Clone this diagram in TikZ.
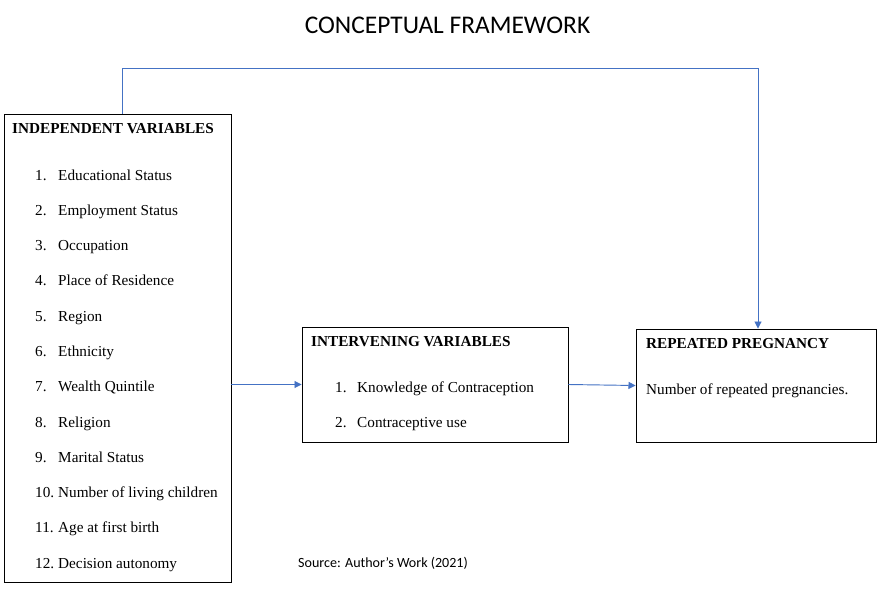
\documentclass[tikz,border=0pt]{standalone}
\usepackage{fontspec}
\setmainfont{Liberation Serif}
\newfontfamily\calibrifont{Carlito}
\usetikzlibrary{arrows.meta}
\definecolor{flowblue}{HTML}{4472C4}
\tikzset{
	varbox/.style={draw=black, line width=0.8pt, inner sep=0pt},
	flow/.style={draw=flowblue, line width=0.8pt, -{Triangle[length=6pt,width=6pt]}},
	txt/.style={anchor=base west, inner sep=0pt, font=\fontsize{13}{15}\selectfont},
	head/.style={txt, font=\fontsize{13}{15}\selectfont\bfseries}
}

\begin{document}
\begin{tikzpicture}
		\useasboundingbox[fill=white] (0,0) rectangle (26.79,-18.39);
		\node[anchor=base, inner sep=0pt, font=\calibrifont\fontsize{21.7}{24}\selectfont] (title) at (13.425,-1.0) {CONCEPTUAL FRAMEWORK};
		% boxes
		\node[varbox, minimum width=6.81cm, minimum height=14.04cm] (indep) at (3.525,-10.44) {};
		\node[varbox, minimum width=7.98cm, minimum height=3.45cm] (interv) at (13.05,-11.535) {};
		\node[varbox, minimum width=7.2cm, minimum height=3.39cm] (repeat) at (22.68,-11.565) {};
		% independent variables
		\node[head] (indephead) at (0.36,-3.99) {INDEPENDENT VARIABLES};
		\node[txt] (n1) at (1.05,-5.40) {1.};
		\node[txt] (v1) at (1.74,-5.40) {Educational Status};
		\node[txt] (n2) at (1.05,-6.46) {2.};
		\node[txt] (v2) at (1.74,-6.46) {Employment Status};
		\node[txt] (n3) at (1.05,-7.52) {3.};
		\node[txt] (v3) at (1.74,-7.52) {Occupation};
		\node[txt] (n4) at (1.05,-8.57) {4.};
		\node[txt] (v4) at (1.74,-8.57) {Place of Residence};
		\node[txt] (n5) at (1.05,-9.63) {5.};
		\node[txt] (v5) at (1.74,-9.63) {Region};
		\node[txt] (n6) at (1.05,-10.69) {6.};
		\node[txt] (v6) at (1.74,-10.69) {Ethnicity};
		\node[txt] (n7) at (1.05,-11.75) {7.};
		\node[txt] (v7) at (1.74,-11.75) {Wealth Quintile};
		\node[txt] (n8) at (1.05,-12.81) {8.};
		\node[txt] (v8) at (1.74,-12.81) {Religion};
		\node[txt] (n9) at (1.05,-13.87) {9.};
		\node[txt] (v9) at (1.74,-13.87) {Marital Status};
		\node[txt] (n10) at (1.05,-14.92) {10.};
		\node[txt] (v10) at (1.74,-14.92) {Number of living children};
		\node[txt] (n11) at (1.05,-15.98) {11.};
		\node[txt] (v11) at (1.74,-15.98) {Age at first birth};
		\node[txt] (n12) at (1.05,-17.04) {12.};
		\node[txt] (v12) at (1.74,-17.04) {Decision autonomy};
		% intervening variables
		\node[head] (intervhead) at (9.33,-10.38) {INTERVENING VARIABLES};
		\node[txt] (m1) at (10.05,-11.76) {1.};
		\node[txt] (w1) at (10.71,-11.76) {Knowledge of Contraception};
		\node[txt] (m2) at (10.05,-12.81) {2.};
		\node[txt] (w2) at (10.71,-12.81) {Contraceptive use};
		% outcome
		\node[head] (repeathead) at (19.38,-10.44) {REPEATED PREGNANCY};
		\node[txt] (outcome) at (19.38,-11.82) {Number of repeated pregnancies.};
		\node[anchor=base west, inner sep=0pt, font=\calibrifont\fontsize{12}{14}\selectfont] (source) at (8.94,-17.01) {Source: Author’s Work (2021)};
		% arrows
		\draw[flow] (indep.east |- interv.west) -- (interv.west);
		\draw[flow] (interv.east) -- (repeat.west);
		\draw[flow] ([xshift=0.135cm]indep.north) -- ++(0,1.35) -| ([xshift=0.06cm]repeat.north);
	\end{tikzpicture}
\end{document}
